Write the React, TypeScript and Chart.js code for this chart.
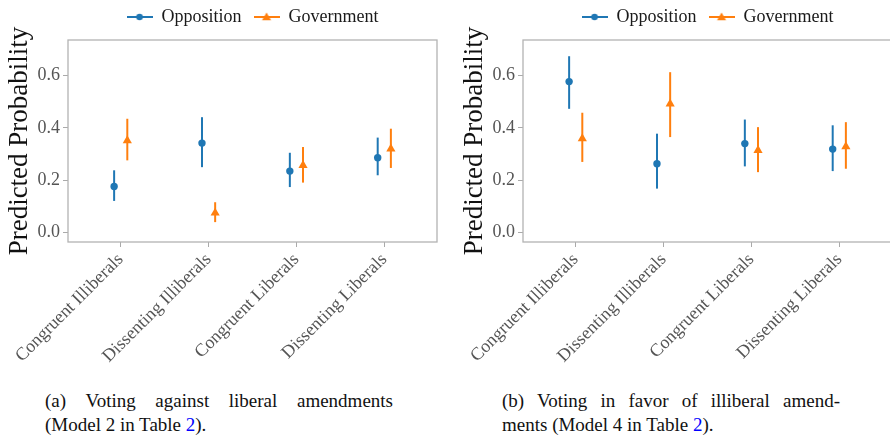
import React, { useEffect, useRef } from "react";
import { Chart, registerables } from "chart.js";

Chart.register(...registerables);

const categories = ["Congruent Illiberals", "Dissenting Illiberals", "Congruent Liberals", "Dissenting Liberals"];
const seriesNames = ["Opposition", "Government"];
const seriesColors = ["#1f77b4", "#ff7f0e"];
const yTicks = [0, 0.2, 0.4, 0.6];
const dodge = 0.075;

// Panel (a): voting against liberal amendments
const oppA = [0.176, 0.342, 0.235, 0.286];
const oppALow = [0.121, 0.25, 0.174, 0.219];
const oppAHigh = [0.238, 0.441, 0.305, 0.363];
const govA = [0.352, 0.075, 0.257, 0.32];
const govALow = [0.276, 0.04, 0.191, 0.247];
const govAHigh = [0.435, 0.116, 0.327, 0.397];

// Panel (b): voting in favor of illiberal amendments
const oppB = [0.577, 0.263, 0.34, 0.319];
const oppBLow = [0.473, 0.168, 0.253, 0.235];
const oppBHigh = [0.674, 0.378, 0.432, 0.41];
const govB = [0.359, 0.492, 0.314, 0.329];
const govBLow = [0.27, 0.365, 0.231, 0.244];
const govBHigh = [0.458, 0.613, 0.403, 0.422];

const W = 445;
const H = 385;
const LEGEND_H = 44;
const FONT = "'Liberation Serif', 'DejaVu Serif', serif";

function legendImage(color: string, style: string): HTMLCanvasElement {
  const c = document.createElement("canvas");
  c.width = 26;
  c.height = 12;
  const ctx = c.getContext("2d")!;
  ctx.strokeStyle = color;
  ctx.lineWidth = 2;
  ctx.beginPath();
  ctx.moveTo(0, 6);
  ctx.lineTo(26, 6);
  ctx.stroke();
  ctx.fillStyle = color;
  ctx.beginPath();
  if (style === "circle") {
    ctx.arc(13, 6, 3.3, 0, Math.PI * 2);
  } else {
    ctx.moveTo(13, 1.5);
    ctx.lineTo(17.5, 9.2);
    ctx.lineTo(8.5, 9.2);
    ctx.closePath();
  }
  ctx.fill();
  return c;
}

const legendHeightPlugin = {
  id: "legendHeight",
  beforeLayout(chart: any) {
    const lg = chart.legend;
    if (lg && !lg.__wrapped) {
      const orig = lg.fit;
      lg.fit = function () {
        orig.call(this);
        this.height = LEGEND_H;
      };
      lg.__wrapped = true;
    }
  },
};

const errorBarPlugin = {
  id: "errorBars",
  beforeDatasetsDraw(chart: any) {
    const { ctx, chartArea, scales } = chart;
    ctx.save();
    ctx.strokeStyle = "#b3b3b3";
    ctx.lineWidth = 1.3;
    ctx.strokeRect(chartArea.left, chartArea.top, chartArea.right - chartArea.left, chartArea.bottom - chartArea.top);
    chart.data.datasets.forEach((ds: any) => {
      ctx.strokeStyle = ds.borderColor;
      ctx.lineWidth = 2;
      ds.data.forEach((p: any, i: number) => {
        const x = scales.x.getPixelForValue(p.x);
        const y1 = scales.y.getPixelForValue(ds.errLow[i]);
        const y2 = scales.y.getPixelForValue(ds.errHigh[i]);
        ctx.beginPath();
        ctx.moveTo(x, y1);
        ctx.lineTo(x, y2);
        ctx.stroke();
      });
    });
    ctx.restore();
  },
};

type PanelProps = {
  opp: number[]; oppLow: number[]; oppHigh: number[];
  gov: number[]; govLow: number[]; govHigh: number[];
};

function Panel(props: PanelProps) {
  const ref = useRef<HTMLCanvasElement>(null);
  useEffect(() => {
    const styles = ["circle", "triangle"];
    const vals = [props.opp, props.gov];
    const lows = [props.oppLow, props.govLow];
    const highs = [props.oppHigh, props.govHigh];
    const offsets = [-dodge, dodge];
    const chart = new Chart(ref.current!, {
      type: "scatter",
      data: {
        datasets: seriesNames.map((name, s) => ({
          label: name,
          data: vals[s].map((v, i) => ({ x: i + offsets[s], y: v })),
          errLow: lows[s],
          errHigh: highs[s],
          borderColor: seriesColors[s],
          backgroundColor: seriesColors[s],
          pointStyle: styles[s],
          pointRadius: s === 0 ? 3.7 : 5.3,
          pointBorderWidth: 0,
          showLine: false,
        })) as any,
      },
      options: {
        responsive: false,
        animation: false,
        layout: { padding: { top: -4, left: 0, right: 8, bottom: 0 } },
        plugins: {
          tooltip: { enabled: false },
          legend: {
            position: "top",
            fullSize: false,
            labels: {
              usePointStyle: true,
              pointStyleWidth: 26,
              generateLabels: (ch: any) =>
                ch.data.datasets.map((ds: any, i: number) => ({
                  text: ds.label,
                  pointStyle: legendImage(seriesColors[i], styles[i]),
                  fillStyle: seriesColors[i],
                  strokeStyle: seriesColors[i],
                  lineWidth: 0,
                  fontColor: "#1a1a1a",
                  datasetIndex: i,
                  hidden: false,
                })),
              font: { family: FONT, size: 18 },
              color: "#1a1a1a",
              padding: 12,
            },
          },
        },
        scales: {
          x: {
            type: "linear",
            min: -0.6,
            max: 3.6,
            afterBuildTicks: (scale: any) => {
              scale.ticks = categories.map((_, i) => ({ value: i }));
            },
            afterFit: (scale: any) => {
              scale.height = 143;
            },
            ticks: {
              autoSkip: false,
              maxRotation: 45,
              minRotation: 45,
              padding: 2,
              color: "#555",
              font: { family: FONT, size: 18 },
              callback: (v: any) => categories[Math.round(v)] ?? "",
            },
            grid: { display: true, drawOnChartArea: false, drawTicks: true, tickLength: 5, color: "#aaa" },
            border: { display: false },
          },
          y: {
            type: "linear",
            min: -0.036,
            max: 0.736,
            afterBuildTicks: (scale: any) => {
              scale.ticks = yTicks.map((v) => ({ value: v }));
            },
            afterFit: (scale: any) => {
              scale.width = 68;
            },
            ticks: {
              padding: 3,
              color: "#555",
              font: { family: FONT, size: 18 },
              callback: (v: any) => Number(v).toFixed(1),
            },
            title: {
              display: true,
              text: "Predicted Probability",
              color: "#111",
              font: { family: FONT, size: 27 },
              padding: { top: 4, bottom: 4 },
            },
            grid: { display: true, drawOnChartArea: false, drawTicks: true, tickLength: 5, color: "#aaa" },
            border: { display: false },
          },
        },
      },
      plugins: [legendHeightPlugin, errorBarPlugin],
    } as any);
    return () => chart.destroy();
  }, []);
  return <canvas ref={ref} width={W} height={H} style={{ width: W, height: H, display: "block" }} />;
}

const captionStyle: React.CSSProperties = {
  position: "absolute",
  fontFamily: FONT,
  fontSize: 19,
  lineHeight: "24px",
  color: "#111",
};

export default function App() {
  return (
    <div style={{ position: "fixed", left: 0, top: 0, width: 890, height: 436, overflow: "hidden", background: "#fff" }}>
      <div style={{ position: "absolute", left: 0, top: 0 }}>
        <Panel opp={oppA} oppLow={oppALow} oppHigh={oppAHigh} gov={govA} govLow={govALow} govHigh={govAHigh} />
      </div>
      <div style={{ position: "absolute", left: 455, top: 0 }}>
        <Panel opp={oppB} oppLow={oppBLow} oppHigh={oppBHigh} gov={govB} govLow={govBLow} govHigh={govBHigh} />
      </div>
      <div style={{ ...captionStyle, left: 45, top: 389, width: 348 }}>
        <div style={{ textAlign: "justify", textAlignLast: "justify" }}>(a) Voting against liberal amendments</div>
        <div>(Model 2 in Table <span style={{ color: "#0000ff" }}>2</span>).</div>
      </div>
      <div style={{ ...captionStyle, left: 502, top: 389, width: 338 }}>
        <div style={{ textAlign: "justify", textAlignLast: "justify" }}>(b) Voting in favor of illiberal amend-</div>
        <div>ments (Model 4 in Table <span style={{ color: "#0000ff" }}>2</span>).</div>
      </div>
    </div>
  );
}
